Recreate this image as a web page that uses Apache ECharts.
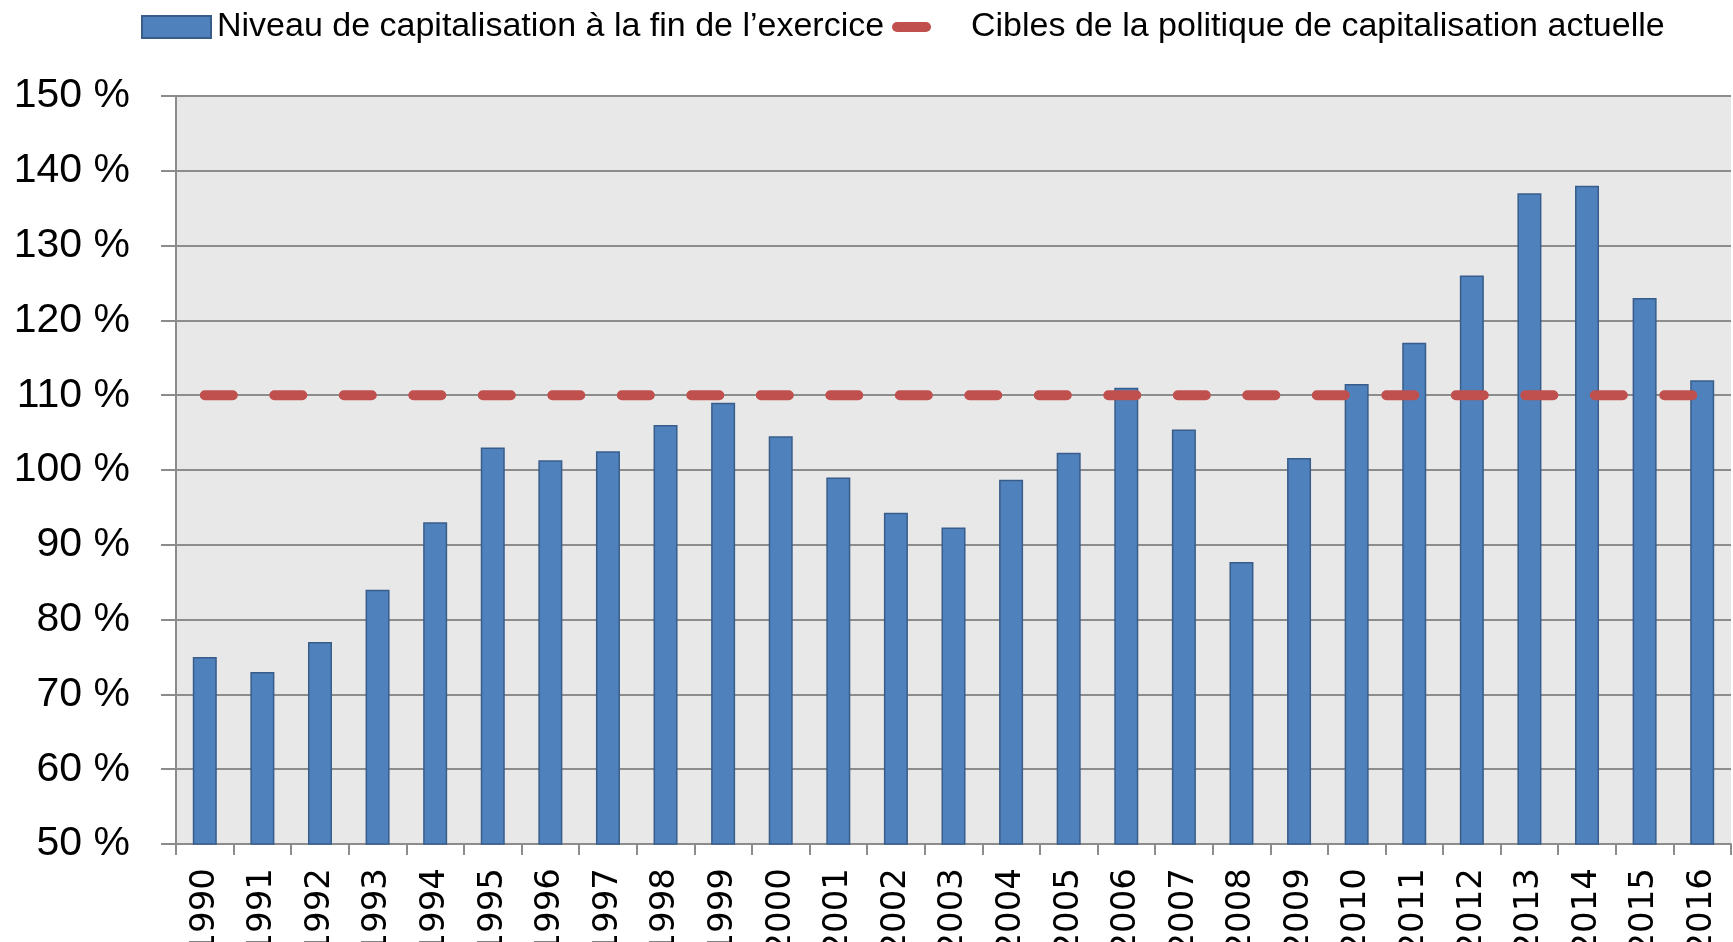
<!DOCTYPE html>
<html>
<head>
<meta charset="utf-8">
<script src="https://cdn.jsdelivr.net/npm/echarts@6/dist/echarts.min.js"></script>
<style>
  html, body { margin: 0; padding: 0; background: #fff; }
  #chart { width: 1733px; height: 942px; }
</style>
</head>
<body>
<div id="chart"></div>
<script>
// données
const years = ['1990', '1991', '1992', '1993', '1994', '1995', '1996', '1997', '1998', '1999',
  '2000', '2001', '2002', '2003', '2004', '2005', '2006', '2007', '2008', '2009',
  '2010', '2011', '2012', '2013', '2014', '2015', '2016']
const niveau = [75.0, 73.0, 77.0, 84.0, 93.0, 103.0, 101.3, 102.5, 106.0, 109.0,
  104.5, 99.0, 94.3, 92.3, 98.7, 102.3, 111.0, 105.4, 87.7, 101.6,
  111.5, 117.0, 126.0, 137.0, 138.0, 123.0, 112.0]
const cibles = [110, 110, 110, 110, 110, 110, 110, 110, 110, 110,
  110, 110, 110, 110, 110, 110, 110, 110, 110, 110,
  110, 110, 110, 110, 110, 110, 110]
const yTicks = { min: 50, max: 150, step: 10 }

const nomNiveau = 'Niveau de capitalisation à la fin de l\u2019exercice'
const nomCibles = 'Cibles de la politique de capitalisation actuelle'

const gris = '#8C8C8C'
const police = '"Liberation Sans", Arial, sans-serif'

const chart = echarts.init(document.getElementById('chart'))
chart.setOption({
  animation: false,
  legend: [{
    data: [nomNiveau],
    left: 141,
    top: 10,
    padding: 0,
    itemWidth: 69,
    itemHeight: 22,
    icon: 'rect',
    textStyle: { fontFamily: police, fontSize: 34, lineHeight: 34, color: '#000', padding: [0, 0, 0, 1] }
  }, {
    data: [{ name: nomCibles, icon: 'path://M5,0 L34,0 A5,5 0 0 1 34,10 L5,10 A5,5 0 0 1 5,0 Z' }],
    left: 892,
    top: 10,
    padding: 0,
    itemWidth: 39,
    itemHeight: 10,
    textStyle: { fontFamily: police, fontSize: 34, lineHeight: 34, color: '#000', padding: [0, 0, 0, 35] }
  }],
  grid: {
    left: 176,
    right: 2,
    top: 96,
    bottom: 98,
    outerBoundsMode: 'none',
    containLabel: false,
    show: true,
    backgroundColor: '#E8E8E8',
    borderWidth: 0
  },
  xAxis: {
    type: 'category',
    data: years,
    axisLine: { lineStyle: { color: gris, width: 2 } },
    axisTick: { show: true, length: 11, lineStyle: { color: gris, width: 2 } },
    axisLabel: {
      interval: 0,
      rotate: 90,
      margin: 24,
      fontFamily: '"DejaVu Sans", Verdana, sans-serif',
      fontSize: 34,
      color: '#000'
    }
  },
  yAxis: {
    type: 'value',
    min: yTicks.min,
    max: yTicks.max,
    interval: yTicks.step,
    axisLine: { show: true, lineStyle: { color: gris, width: 2 } },
    axisTick: { show: true, length: 15, lineStyle: { color: gris, width: 2 } },
    splitLine: { show: true, lineStyle: { color: gris, width: 2 } },
    axisLabel: {
      formatter: '{value} %',
      margin: 46,
      fontFamily: police,
      fontSize: 41,
      color: '#000'
    }
  },
  series: [{
    name: nomNiveau,
    type: 'bar',
    data: niveau,
    barWidth: 24,
    itemStyle: { color: '#4F81BD', borderColor: '#385D8A', borderWidth: 1.5 }
  }, {
    name: nomCibles,
    type: 'line',
    data: cibles,
    showSymbol: false,
    symbol: 'none',
    itemStyle: { color: '#C0504D' },
    lineStyle: { color: '#C0504D', width: 10, type: [28, 41.5], cap: 'round' }
  }]
})
</script>
</body>
</html>
